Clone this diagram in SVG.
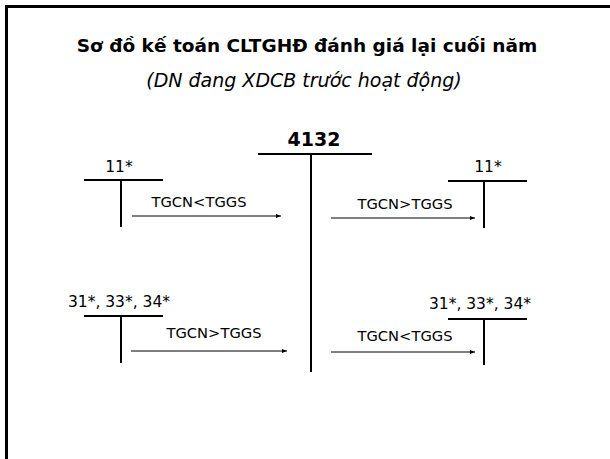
<svg xmlns="http://www.w3.org/2000/svg" width="610" height="459" viewBox="0 0 610 459">
<defs>
<marker id="ah" markerWidth="6" markerHeight="6" refX="5" refY="3" orient="auto" markerUnits="userSpaceOnUse">
<path d="M0,1 L5,3 L0,5 z" fill="#000"/>
</marker>
<style>
text{font-family:"DejaVu Sans",Verdana,sans-serif;fill:#000}
.t{font-size:18.5px;font-weight:bold}
.n{font-size:19px;font-weight:bold}
.s{font-size:19px;font-style:italic}
.acc{font-size:15.5px}
.lbl{font-size:14.7px}
.tl{stroke:#000;stroke-width:2;fill:none}
.ar{stroke:#000;stroke-width:1;fill:none;marker-end:url(#ah)}
</style>
</defs>
<rect width="610" height="459" fill="#fff"/>
<path d="M6.5,459 V6.5 H610" stroke="#000" stroke-width="3" fill="none"/>
<text class="t" x="307" y="52" text-anchor="middle">Sơ đồ kế toán CLTGHĐ đánh giá lại cuối năm</text>
<text class="s" x="304" y="87" text-anchor="middle">(DN đang XDCB trước hoạt động)</text>
<g id="n4132">
<text class="n" x="314" y="146" text-anchor="middle">4132</text>
<path class="tl" d="M258,154 H372 M311,154 V372"/>
</g>
<g id="n11L">
<text class="acc" x="119" y="172" text-anchor="middle">11*</text>
<path class="tl" d="M84,180 H163 M121,180 V227"/>
</g>
<g id="n11R">
<text class="acc" x="488" y="172" text-anchor="middle">11*</text>
<path class="tl" d="M448,181 H527 M484,181 V228"/>
</g>
<g id="n31L">
<text class="acc" x="119" y="307" text-anchor="middle">31*, 33*, 34*</text>
<path class="tl" d="M84,316 H163 M121,316 V363"/>
</g>
<g id="n31R">
<text class="acc" x="480" y="309" text-anchor="middle">31*, 33*, 34*</text>
<path class="tl" d="M448,319 H527 M484,319 V365"/>
</g>
<g id="connectors">
<path class="ar" d="M132,216 H281"/>
<text class="lbl" x="199" y="207" text-anchor="middle">TGCN&lt;TGGS</text>
<path class="ar" d="M331,218 H475"/>
<text class="lbl" x="405" y="209" text-anchor="middle">TGCN&gt;TGGS</text>
<path class="ar" d="M131,351 H287"/>
<text class="lbl" x="214" y="338" text-anchor="middle">TGCN&gt;TGGS</text>
<path class="ar" d="M331,352 H475"/>
<text class="lbl" x="405" y="341" text-anchor="middle">TGCN&lt;TGGS</text>
</g>
</svg>
